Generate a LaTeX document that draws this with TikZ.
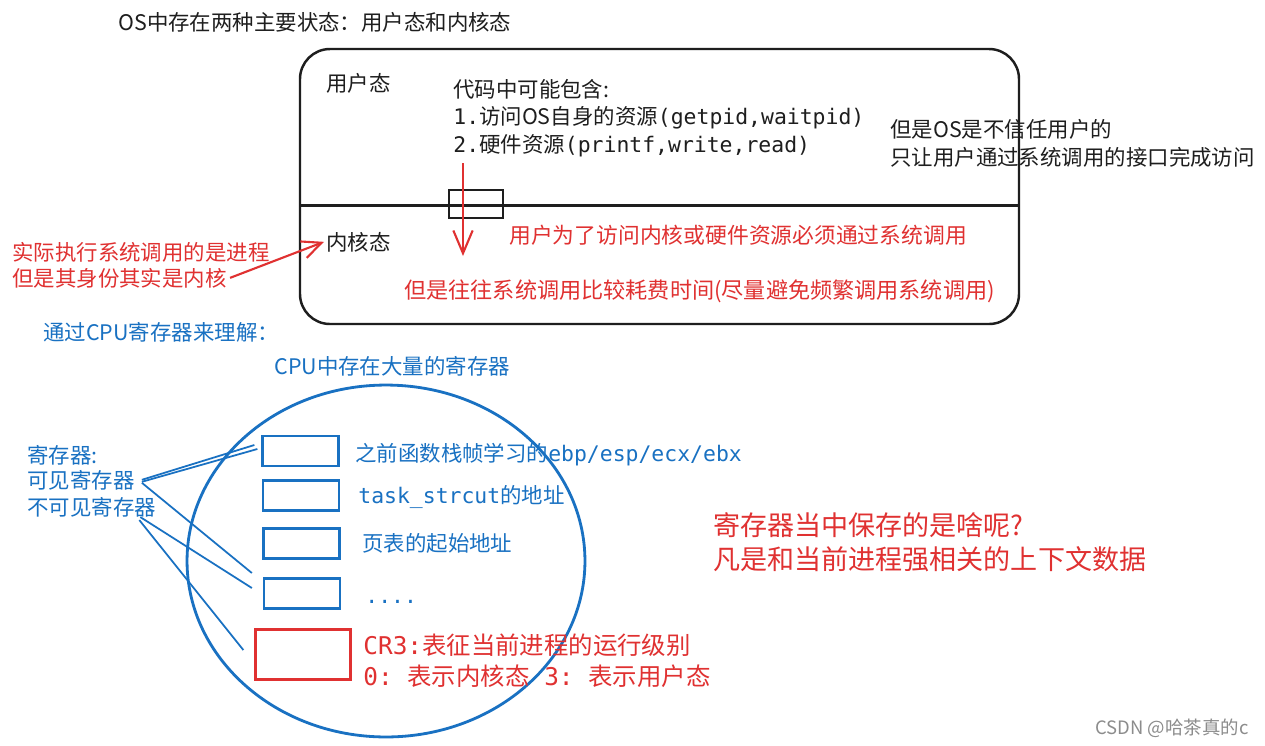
\documentclass[tikz,border=0pt]{standalone}
\usepackage{fontspec}
\setmainfont{Noto Sans CJK SC}
\setmonofont{DejaVu Sans Mono}
\usetikzlibrary{arrows.meta,shapes.geometric}

\definecolor{ink}{HTML}{1E1E1E}
\definecolor{inkred}{HTML}{E03131}
\definecolor{inkblue}{HTML}{1971C2}

\begin{document}
\begin{tikzpicture}[
    x=0.02cm, y=-0.02cm,
    note/.style={anchor=base west, inner sep=0pt, align=left, text=ink, font=\fontsize{12.2}{15.4}\selectfont},
    rednote/.style={note, text=inkred},
    bluenote/.style={note, text=inkblue},
    regbox/.style={rectangle, draw=inkblue, line width=1.3pt, minimum width=1.52cm, minimum height=0.6cm, inner sep=0pt},
    crbox/.style={regbox, draw=inkred, minimum width=1.9cm, minimum height=1.0cm},
    cpuring/.style={ellipse, draw=inkblue, line width=1.6pt, minimum width=7.96cm, minimum height=7.04cm, inner sep=0pt},
    gatebox/.style={rectangle, draw=ink, line width=1.2pt, minimum width=1.08cm, minimum height=0.56cm, inner sep=0pt},
    callarrow/.style={->, >={Straight Barb[length=13pt,width=11pt]}, draw=inkred, line width=1.2pt},
    link/.style={draw=inkblue, line width=1pt}
]
    \path[use as bounding box, fill=white] (0,0) rectangle (1265,745);

    % user / kernel frame
    \node[note] (title) at (118,30) {OS中存在两种主要状态：用户态和内核态};
    \draw[ink, line width=1.4pt, rounded corners=0.6cm] (300,49) rectangle (1019,324);
    \draw[ink, line width=1.7pt] (300,205) -- (1019,205);
    \node[gatebox] (gate) at (476,204) {};
    \node[note] (user) at (326,91) {用户态};
    \node[note] (kernel) at (326,250) {内核态};
    % multi-line notes sit on the baseline of their last line
    \node[note] (code) at (453,152) {代码中可能包含:\\\texttt{1.}访问OS自身的资源\texttt{(getpid,waitpid)}\\\texttt{2.}硬件资源\texttt{(printf,write,read)}};
    \node[note] (trust) at (890,165) {但是OS是不信任用户的\\只让用户通过系统调用的接口完成访问};
    \node[rednote, font=\fontsize{12.4}{15}\selectfont] (must) at (509,243) {用户为了访问内核或硬件资源必须通过系统调用};
    \node[rednote, font=\fontsize{12.6}{15}\selectfont] (costly) at (404,298) {但是往往系统调用比较耗费时间(尽量避免频繁调用系统调用)};
    \node[rednote] (who1) at (12,260) {实际执行系统调用的是进程};
    \node[rednote] (who2) at (12,286) {但是其身份其实是内核};

    \coordinate (callstart) at (463,163);
    \coordinate (callend) at (463,256);
    \draw[callarrow] (callstart) -- (callend);
    \draw[callarrow, >={Straight Barb[length=11pt,width=10pt]}] ([xshift=0.06cm]who2.east) -- ([xshift=-0.04cm]kernel.west);

    % cpu registers
    \node[bluenote] (viacpu) at (43,340) {通过CPU寄存器来理解：};
    \node[bluenote] (many) at (274,374) {CPU中存在大量的寄存器};
    \node[cpuring] (cpu) at (386,561) {};
    \node[regbox] (box1) at (300.5,451) {};
    \node[regbox] (box2) at (301,495.5) {};
    \node[regbox] (box3) at (301.5,543.5) {};
    \node[regbox] (box4) at (302,593.5) {};
    \node[crbox] (crreg) at (303,654.5) {};
    \node[bluenote] (lbl1) at (355,461) {之前函数栈帧学习的\texttt{ebp/esp/ecx/ebx}};
    \node[bluenote] (lbl2) at (358,503) {\texttt{task\_strcut}的地址};
    \node[bluenote] (lbl3) at (362,551) {页表的起始地址};
    \node[bluenote] (lbl4) at (365,603) {\texttt{....}};
    \node[rednote, font=\fontsize{13.9}{17.1}\selectfont] (cr3) at (363,685) {\texttt{CR3:}表征当前进程的运行级别\\\texttt{0: }表示内核态\texttt{ 3: }表示用户态};

    \node[bluenote] (regs) at (27,463) {寄存器:};
    \node[bluenote] (visible) at (27,488) {可见寄存器};
    \node[bluenote] (invisible) at (27,515) {不可见寄存器};
    \draw[link] ([xshift=0.14cm]visible.east) -- ([xshift=-0.14cm, yshift=0.12cm]box1.west);
    \draw[link] ([xshift=0.14cm, yshift=-0.04cm]visible.east) -- ([xshift=-0.08cm, yshift=0.04cm]box1.west);
    \draw[link] ([xshift=0.14cm, yshift=-0.06cm]visible.east) -- ([xshift=-0.22cm, yshift=0.41cm]box4.west);
    \draw[link] ([xshift=-0.32cm]invisible.south east) -- ([xshift=-0.22cm, yshift=0.11cm]box4.west);
    \draw[link] ([xshift=-0.34cm, yshift=-0.06cm]invisible.south east) -- ([xshift=-0.22cm, yshift=0.09cm]crreg.west);

    \node[rednote, font=\fontsize{15.4}{19.3}\selectfont] (ctx) at (713,569) {寄存器当中保存的是啥呢?\\凡是和当前进程强相关的上下文数据};
    \node[note, text=black!45, font=\fontsize{10.5}{12}\selectfont] (mark) at (1095,734) {CSDN @哈茶真的c};
\end{tikzpicture}
\end{document}
